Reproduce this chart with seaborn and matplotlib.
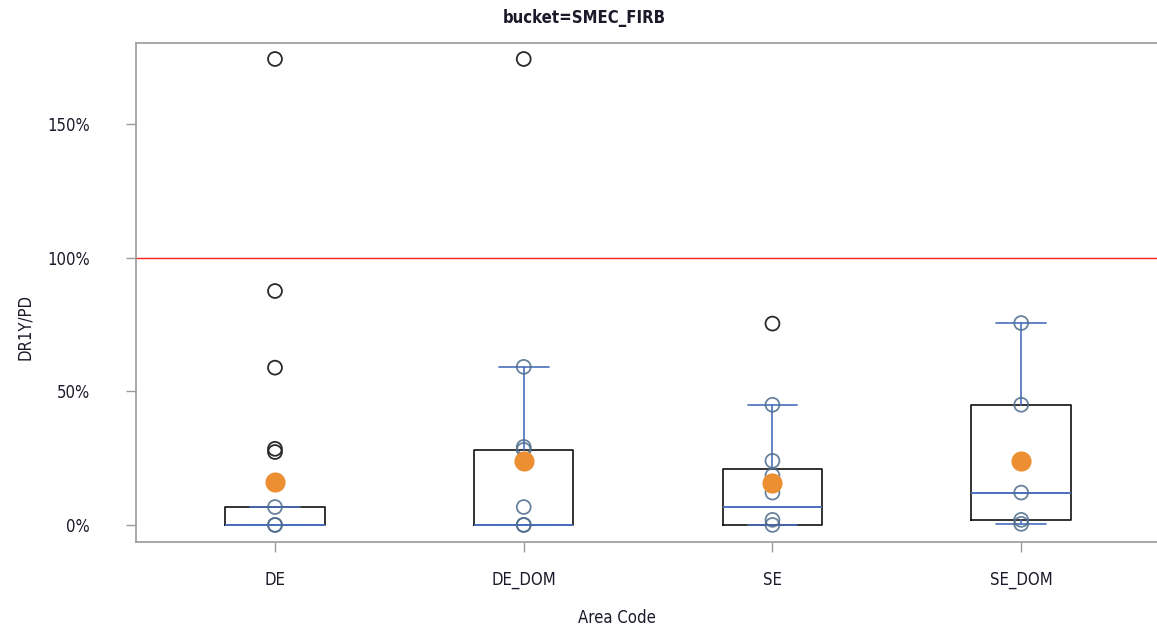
import pandas as pd
import matplotlib
matplotlib.use("Agg")
import matplotlib.pyplot as plt
import seaborn as sns

areas = ["DE", "DE_DOM", "SE", "SE_DOM"]

# box statistics (in %)
q1 = [0.0, 0.0, 0.0, 1.9]
medians = [0.0, 0.0, 6.7, 12.1]
q3 = [6.7, 28.1, 21.0, 45.0]
whisk_lo = [0.0, 0.0, 0.0, 0.4]
whisk_hi = [6.7, 59.2, 45.0, 75.6]
means = [16.1, 24.0, 15.7, 24.0]

# observations inside the whiskers
de_in = [0.0, 0.0, 6.7]
de_dom_in = [0.0, 0.0, 6.7, 28.1, 29.2, 59.2]
se_in = [0.0, 1.9, 12.1, 18.5, 24.0, 45.0]
se_dom_in = [0.4, 1.9, 12.1, 45.0, 75.6]

# outliers
de_out = [27.3, 28.5, 58.9, 87.6, 174.5]
de_dom_out = [174.5]
se_out = [75.4]
se_dom_out = []

inside = pd.DataFrame({
    "area": ["DE"] * len(de_in) + ["DE_DOM"] * len(de_dom_in)
            + ["SE"] * len(se_in) + ["SE_DOM"] * len(se_dom_in),
    "value": de_in + de_dom_in + se_in + se_dom_in,
})
outside = pd.DataFrame({
    "area": ["DE"] * len(de_out) + ["DE_DOM"] * len(de_dom_out)
            + ["SE"] * len(se_out) + ["SE_DOM"] * len(se_dom_out),
    "value": de_out + de_dom_out + se_out + se_dom_out,
})
mean_df = pd.DataFrame({"area": areas, "value": means})

sns.set_style("white")
plt.rcParams["font.family"] = ["DejaVu Sans"]
plt.rcParams["font.stretch"] = "condensed"

fig = plt.figure(figsize=(11.57, 6.32), dpi=100)
ax = fig.add_axes([0.1175, 0.1424, 0.8825, 0.7896])

stats = []
for i, a in enumerate(areas):
    stats.append({"label": a, "q1": q1[i], "med": medians[i], "q3": q3[i],
                  "whislo": whisk_lo[i], "whishi": whisk_hi[i]})

blue = "#4a6fbf"
ax.bxp(stats, positions=range(len(areas)), widths=0.4, capwidths=0.2,
       showfliers=False, patch_artist=False,
       boxprops=dict(color="#111111", linewidth=1.2),
       whiskerprops=dict(color=blue, linewidth=1.2),
       capprops=dict(color=blue, linewidth=1.2),
       medianprops=dict(color=blue, linewidth=1.4),
       manage_ticks=False)

ax.axhline(100, color="#ff2020", linewidth=1)

sns.stripplot(data=inside, x="area", y="value", order=areas, jitter=False,
              size=10, facecolor="none", edgecolor="#4f6d8c", linewidth=1.3,
              alpha=0.85, ax=ax, zorder=3)
sns.stripplot(data=outside, x="area", y="value", order=areas, jitter=False,
              size=10, facecolor="none", edgecolor="#2a2a2a", linewidth=1.3,
              ax=ax, zorder=3)
sns.stripplot(data=mean_df, x="area", y="value", order=areas, jitter=False,
              size=14.5, color="#eb8f32", linewidth=0, ax=ax, zorder=4)

ax.set_xlim(-0.559, 3.546)
ax.set_ylim(-6.4, 180.5)
ax.set_yticks([0, 50, 100, 150])
ax.set_yticklabels(["0%", "50%", "100%", "150%"])
ax.set_xticks(range(len(areas)))
ax.set_xticklabels(areas)

for side in ["left", "top", "bottom"]:
    ax.spines[side].set_color("#9a9a9a")
    ax.spines[side].set_linewidth(1.2)
ax.spines["right"].set_visible(False)

ax.tick_params(axis="both", which="both", length=7, width=1, color="#9a9a9a",
               labelsize=12, labelcolor="#1a1a2a", left=True, bottom=True)
ax.tick_params(axis="y", pad=26)
ax.tick_params(axis="x", pad=14)

ax.set_xlabel("Area Code", fontsize=12, labelpad=18, color="#1a1a2a")
ax.set_ylabel("DR1Y/PD", fontsize=12, labelpad=20, color="#1a1a2a")
ax.xaxis.set_label_coords(0.471, -0.135)
ax.yaxis.set_label_coords(-0.1, 0.43)
fig.suptitle("bucket=SMEC_FIRB", fontsize=12, fontweight="bold", x=0.505, y=0.985,
             color="#1a1a2a")

fig.savefig("out.png", dpi=100)
